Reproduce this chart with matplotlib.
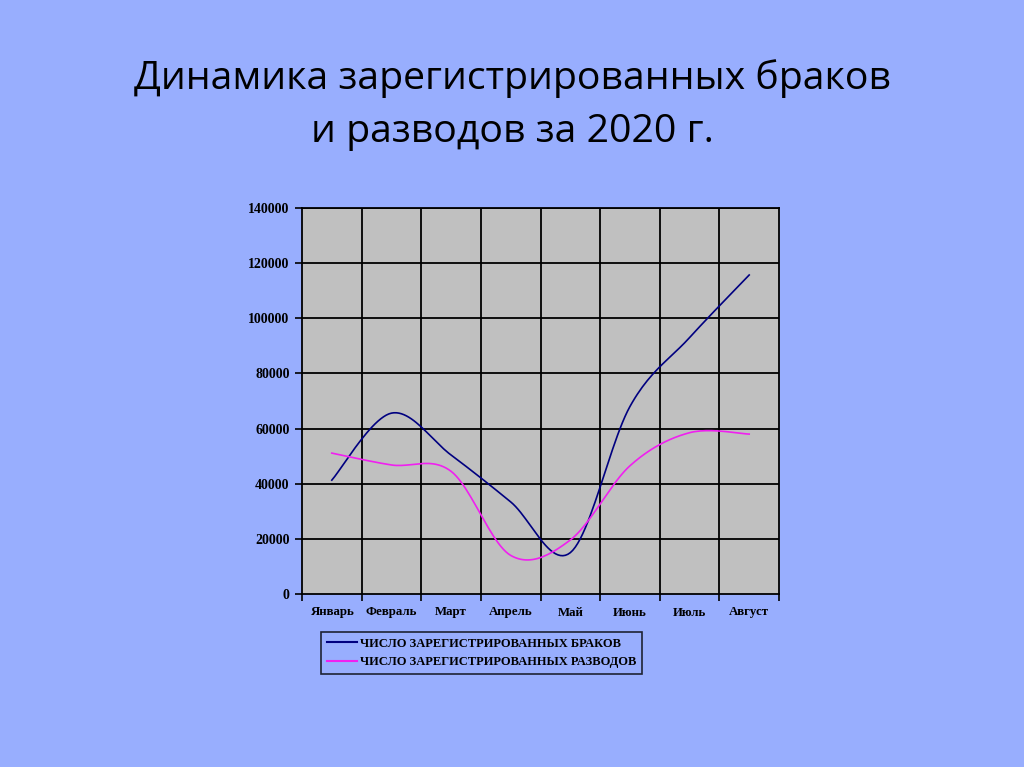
import numpy as np
import matplotlib
matplotlib.use("Agg")
import matplotlib.pyplot as plt
from matplotlib.lines import Line2D

months = ["Январь", "Февраль", "Март", "Апрель", "Май", "Июнь", "Июль", "Август"]
marriages = [41300, 65600, 50400, 33400, 15000, 68000, 93000, 115700]
divorces = [51100, 46800, 44500, 14000, 19600, 46500, 58500, 58000]
yticks = [0, 20000, 40000, 60000, 80000, 100000, 120000, 140000]

bg = "#98AEFE"
plot_bg = "#C0C0C0"
blue = "#000080"
pink = "#F020F0"


def smooth(xs, ys, steps=24):
    # Excel-style smoothed line (Catmull-Rom through the data points)
    xs = np.asarray(xs, float)
    ys = np.asarray(ys, float)
    n = len(xs)
    px = np.concatenate([[xs[0]], xs, [xs[-1]]])
    py = np.concatenate([[ys[0]], ys, [ys[-1]]])
    out_x, out_y = [xs[0]], [ys[0]]
    t = np.linspace(0, 1, steps + 1)[1:]
    for i in range(n - 1):
        p0x, p1x, p2x, p3x = px[i], px[i + 1], px[i + 2], px[i + 3]
        p0y, p1y, p2y, p3y = py[i], py[i + 1], py[i + 2], py[i + 3]
        c1x, c1y = p1x + (p2x - p0x) / 6, p1y + (p2y - p0y) / 6
        c2x, c2y = p2x - (p3x - p1x) / 6, p2y - (p3y - p1y) / 6
        bx = (1 - t) ** 3 * p1x + 3 * (1 - t) ** 2 * t * c1x + 3 * (1 - t) * t ** 2 * c2x + t ** 3 * p2x
        by = (1 - t) ** 3 * p1y + 3 * (1 - t) ** 2 * t * c1y + 3 * (1 - t) * t ** 2 * c2y + t ** 3 * p2y
        out_x.extend(bx)
        out_y.extend(by)
    return out_x, out_y


fig = plt.figure(figsize=(10.24, 7.67), dpi=100, facecolor=bg)

fig.text(0.5, 0.863, "Динамика зарегистрированных браков\nи разводов за 2020 г.",
         ha="center", va="center", fontsize=28.3, family="Open Sans",
         linespacing=1.5, color="black")

ax = fig.add_axes([302 / 1024, 173 / 767, 477 / 1024, 386 / 767])
ax.set_facecolor(plot_bg)

x = np.arange(len(months))
sx, sy = smooth(x, marriages)
ax.plot(sx, sy, color=blue, lw=1.2, zorder=3)
sx, sy = smooth(x, divorces)
ax.plot(sx, sy, color=pink, lw=1.2, zorder=3)

ax.set_xlim(-0.5, len(months) - 0.5)
ax.set_ylim(0, 140000)

serif = "Liberation Serif"
ax.set_yticks(yticks)
ax.set_yticklabels([str(v) for v in yticks], family=serif, fontweight="bold", fontsize=10)
ax.set_xticks(x)
ax.set_xticklabels(months, family=serif, fontweight="bold", fontsize=9.3)
ax.set_xticks(np.arange(len(months) + 1) - 0.5, minor=True)
ax.tick_params(axis="x", which="major", length=0, pad=9)
ax.tick_params(axis="x", which="minor", length=5, width=1.2, direction="out")
ax.tick_params(axis="y", length=5, width=1.2, direction="out", pad=4)

for v in yticks[1:]:
    ax.axhline(v, color="black", lw=1.3, zorder=1)
for b in np.arange(1, len(months)) - 0.5:
    ax.axvline(b, color="black", lw=1.3, zorder=1)
for s in ax.spines.values():
    s.set_color("black")
    s.set_linewidth(1.3)

handles = [Line2D([], [], color=blue, lw=1.5), Line2D([], [], color=pink, lw=1.5)]
leg = fig.legend(handles, ["ЧИСЛО ЗАРЕГИСТРИРОВАННЫХ БРАКОВ", "ЧИСЛО ЗАРЕГИСТРИРОВАННЫХ РАЗВОДОВ"],
                 loc="upper left", bbox_to_anchor=(321 / 1024, 1 - 632 / 767),
                 prop={"family": serif, "weight": "bold", "size": 9.0},
                 frameon=True, fancybox=False, facecolor=bg, edgecolor="black",
                 handlelength=2.4, handletextpad=0.3, borderpad=0.45, labelspacing=0.55,
                 borderaxespad=0)
leg.get_frame().set_linewidth(1.2)

fig.savefig("out.png", dpi=100, facecolor=bg)
